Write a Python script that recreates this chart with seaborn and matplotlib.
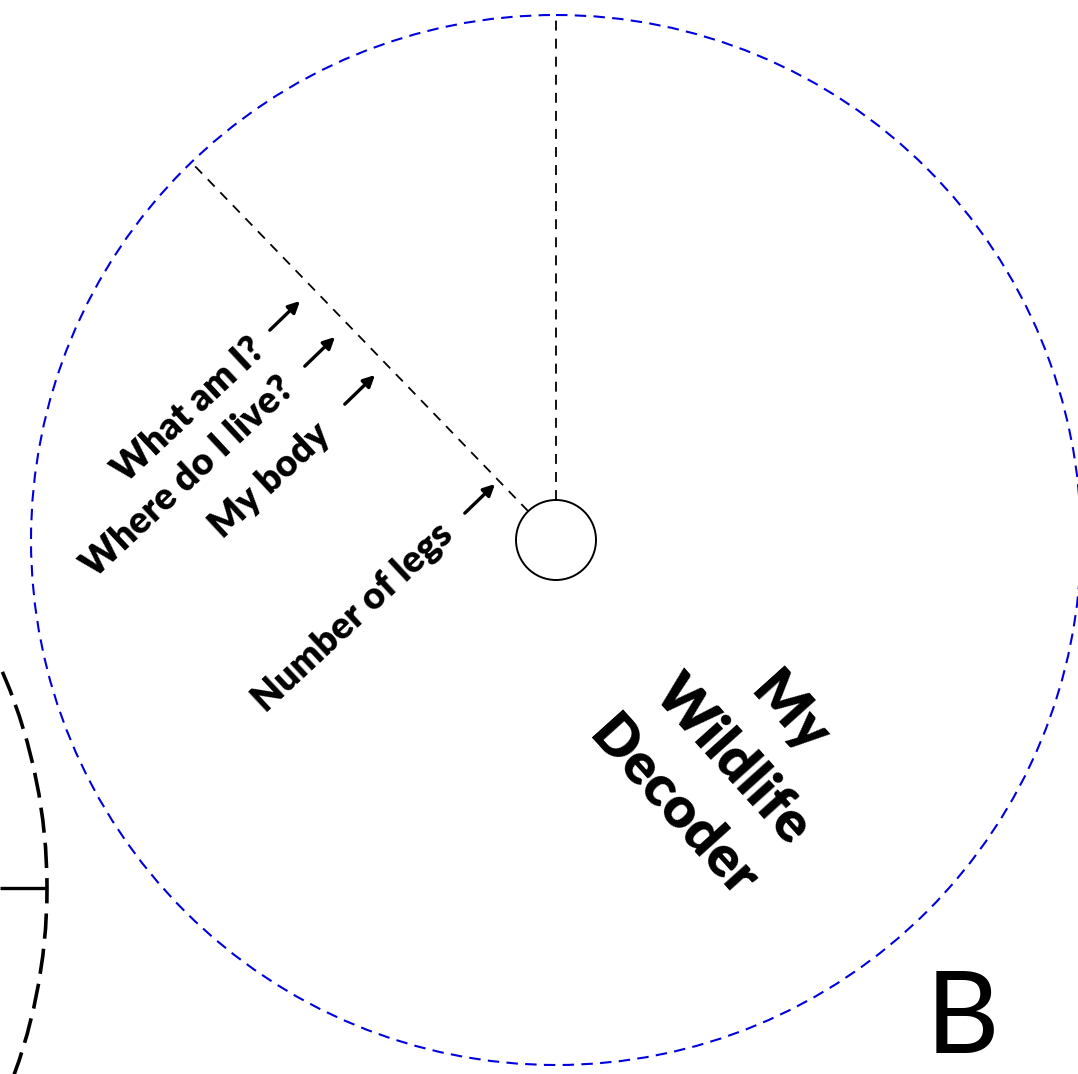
import numpy as np
import matplotlib
matplotlib.use("Agg")
import matplotlib.pyplot as plt
from matplotlib.patches import Circle
import seaborn as sns

# Decoder wheel content
prompt_labels = ["What am I?", "Where do I live?", "My body", "Number of legs"]
title_lines = ["My", "Wildlife", "Decoder"]
panel_letter = "B"
spoke_angles = [90, 134]          # degrees, measured counter-clockwise from +x

# layout (pixel coordinates, y grows downward)
W, H = 1078, 1074
cx, cy = 556, 540
wheel_r = 525
hub_r = 40
label_centers = [(189, 410), (188, 477), (270, 480), (353, 617)]
arrow_tips = [(300, 301), (335, 337), (375, 375), (495, 484)]
arrow_len = 42
label_rot = 43
title_centers = [(790, 713), (733, 760), (673, 807)]
title_rot = -48

sns.set_theme(style="white")
plt.rcParams['font.family'] = ['Lato', 'DejaVu Sans']
plt.rcParams['text.color'] = 'black'

fig = plt.figure(figsize=(W / 100, H / 100), dpi=100)
ax = fig.add_axes([0, 0, 1, 1])
ax.set_xlim(0, W)
ax.set_ylim(H, 0)
ax.set_aspect('equal')
ax.axis('off')

# neighbouring wheel peeking in from the left
ax.add_patch(Circle((-500, 888), 547, fill=False, ec='black', lw=2.6,
                    linestyle=(0, (7, 2.8))))
ax.plot([0, 47], [888, 888], color='black', lw=2.4, solid_capstyle='butt')

# this wheel
ax.add_patch(Circle((cx, cy), wheel_r, fill=False, ec='#0000dd', lw=1.5,
                    linestyle=(0, (5.5, 3.5))))
ax.add_patch(Circle((cx, cy), hub_r, fill=False, ec='black', lw=1.4))

for a in spoke_angles:
    t = np.deg2rad(a)
    ux, uy = np.cos(t), -np.sin(t)
    ax.plot([cx + hub_r * ux, cx + wheel_r * ux],
            [cy + hub_r * uy, cy + wheel_r * uy],
            color='black', lw=1.3, linestyle=(0, (5.5, 4.5)))

# prompt labels with arrows
ta = np.deg2rad(44)
for lab, (tx, ty), (ax_, ay_) in zip(prompt_labels, label_centers, arrow_tips):
    ax.text(tx, ty, lab, rotation=label_rot, rotation_mode='anchor',
            ha='center', va='center', fontsize=27, fontweight='heavy',
            color='black')
    ax.annotate('', xy=(ax_, ay_),
                xytext=(ax_ - arrow_len * np.cos(ta), ay_ + arrow_len * np.sin(ta)),
                arrowprops=dict(arrowstyle='-|>', color='black', lw=2.4,
                                mutation_scale=17, shrinkA=0, shrinkB=0))

# title
for line, (tx, ty) in zip(title_lines, title_centers):
    ax.text(tx, ty, line, rotation=title_rot, rotation_mode='anchor',
            ha='center', va='center', fontsize=41, fontweight='heavy',
            color='black')

ax.text(962, 1073, panel_letter, ha='center', va='bottom', fontsize=82,
        color='black')

fig.savefig('out.png', dpi=100)
